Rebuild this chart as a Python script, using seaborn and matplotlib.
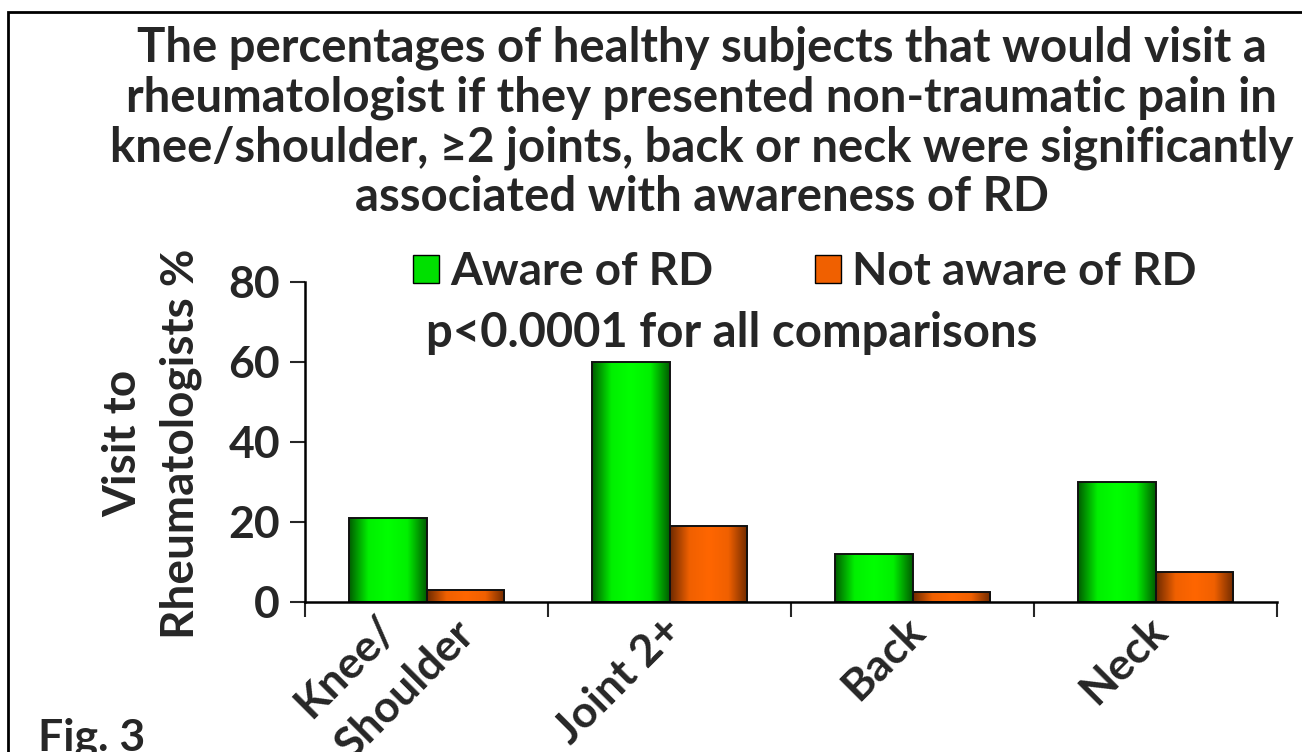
import numpy as np
import pandas as pd
import matplotlib
matplotlib.use("Agg")
import matplotlib.pyplot as plt
import matplotlib.transforms as mtransforms
import seaborn as sns
from matplotlib.colors import LinearSegmentedColormap
from matplotlib.patches import Patch, Rectangle

# data
categories = ["Knee/\nShoulder", "Joint 2+", "Back", "Neck"]
aware = [21, 60, 12, 30]
not_aware = [3, 19, 2.5, 7.5]
groups = ["Aware of RD", "Not aware of RD"]

df = pd.DataFrame({"region": categories * 2,
                   "pct": aware + not_aware,
                   "group": [groups[0]] * 4 + [groups[1]] * 4})

sns.set_style("white")
plt.rcParams["font.family"] = ["Lato", "DejaVu Sans"]
plt.rcParams["font.weight"] = "bold"

fig = plt.figure(figsize=(13.02, 7.52), dpi=100)
ax = fig.add_axes([0.2343, 0.1995, 0.7465, 0.4255])

sns.barplot(data=df, x="region", y="pct", hue="group",
            palette=["#00cc00", "#e05a00"], width=0.64, gap=0,
            edgecolor="#111111", linewidth=1.4, legend=False, ax=ax)

# horizontal gradient fill like the original (dark edges, bright centre)
cmaps = {
    groups[0]: LinearSegmentedColormap.from_list("g", ["#005c00", "#00f000", "#00ff00", "#00f000", "#005c00"]),
    groups[1]: LinearSegmentedColormap.from_list("o", ["#6e2a00", "#f06000", "#ff6600", "#f06000", "#6e2a00"]),
}
grad = np.linspace(0, 1, 256).reshape(1, -1)
for i, bar in enumerate(ax.patches[:8]):
    g = groups[i // 4]
    x0, y0 = bar.get_x(), bar.get_y()
    w, h = bar.get_width(), bar.get_height()
    im = ax.imshow(grad, cmap=cmaps[g], aspect="auto",
                   extent=[x0, x0 + w, y0, y0 + h], zorder=bar.get_zorder())
    im.set_clip_path(bar)
    bar.set_zorder(bar.get_zorder() + 0.1)
    bar.set_facecolor("none")

ax.set_xlim(-0.5, 3.5)
ax.set_ylim(0, 80)
ax.set_yticks([0, 20, 40, 60, 80])
ax.tick_params(axis="y", labelsize=32, length=11, width=1.5, direction="out", pad=7, left=True)
ax.set_xticks([-0.5, 0.5, 1.5, 2.5, 3.5], minor=True)
ax.tick_params(axis="x", which="minor", length=11, width=1.5, direction="out", bottom=True)
ax.tick_params(axis="x", which="major", length=0, pad=14)
ax.set_xticks(range(4))
ax.set_xticklabels(categories, rotation=45, ha="right", va="top",
                   rotation_mode="anchor", fontsize=32, multialignment="left",
                   linespacing=1.54)
# nudge the rotated labels (pixels) so their ends sit like in the original
label_shift = [(-14, 50), (-9, 12), (-9, 12), (-9, 12)]
for lab, (dx, dy) in zip(ax.get_xticklabels(), label_shift):
    lab.set_transform(lab.get_transform() +
                      mtransforms.ScaledTranslation(dx / 100, dy / 100, fig.dpi_scale_trans))
for s in ["top", "right"]:
    ax.spines[s].set_visible(False)
for s in ["left", "bottom"]:
    ax.spines[s].set_linewidth(1.8)
    ax.spines[s].set_color("black")
ax.set_xlabel("")
ax.set_ylabel("")

fig.text(0.1165, 0.41, "Visit to\nRheumatologists %", rotation=90,
         ha="center", va="center", multialignment="center",
         fontsize=33, fontweight="bold", linespacing=1.45)

handles = [Patch(facecolor="#00e000", edgecolor="black"),
           Patch(facecolor="#f06000", edgecolor="black")]
ax.legend(handles, groups, loc="center left", bbox_to_anchor=(0.3172, 0.638),
          bbox_transform=fig.transFigure, ncol=2, frameon=False, fontsize=33,
          handlelength=0.57, handleheight=0.57, handletextpad=0.25,
          columnspacing=2.2, borderpad=0, borderaxespad=0)

ax.text(0.4393, 0.797, "p<0.0001 for all comparisons", transform=ax.transAxes,
        ha="center", va="baseline", fontsize=34, fontweight="bold")

fig.text(0.539, 0.9655,
         "The percentages of healthy subjects that would visit a\n"
         "rheumatologist if they presented non-traumatic pain in\n"
         "knee/shoulder, \u22652 joints, back or neck were significantly\n"
         "associated with awareness of RD",
         ha="center", va="top", fontsize=34, fontweight="bold", linespacing=1.14)

fig.text(0.029, 0.002, "Fig. 3", ha="left", va="baseline", fontsize=32, fontweight="bold")

fig.patches.append(Rectangle((0.006, -0.02), 1.1, 1.004, transform=fig.transFigure,
                             fill=False, edgecolor="black", linewidth=2))

fig.savefig("out.png", dpi=100)
